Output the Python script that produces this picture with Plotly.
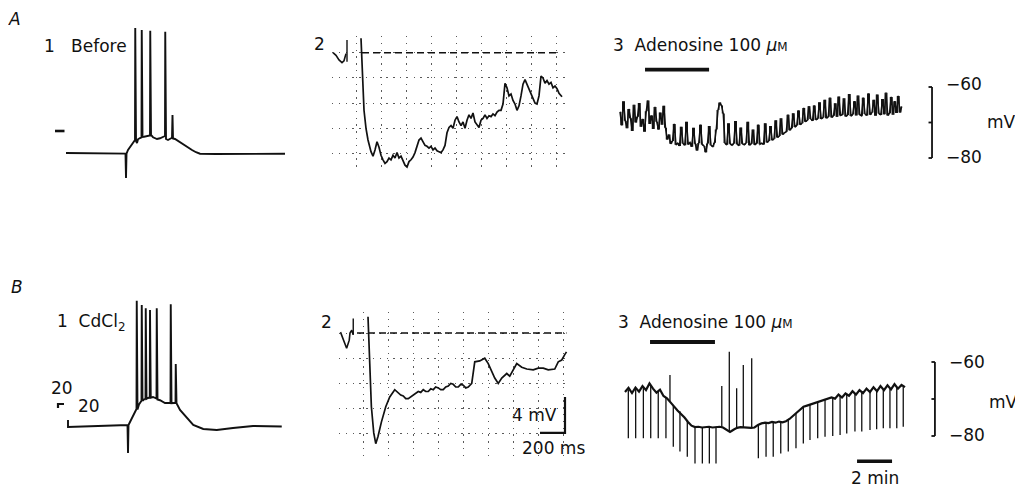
import plotly.graph_objects as go

W, H = 1023, 488
OFF = 8                      # the page body has an 8 px margin
FW, FH = W - OFF, H - OFF    # figure size so that it ends at the window edge
INK = "#111111"
FONT = "DejaVu Sans"

# ---------------- data ----------------
# A1 / B1 : membrane potential (mV) vs time (ms), current-evoked bursts
A1_T = [0, 120, 238, 240, 242, 248, 260, 272, 276, 277, 280, 284, 288, 296, 302, 303, 306, 312, 320, 328,
        336, 337, 340, 348, 356, 364, 376, 388, 396, 397, 400, 408, 416, 424, 426, 428, 436, 452, 468, 488,
        504, 520, 536, 600, 700, 800, 876]
A1_V = [-70, -70.2, -70.5, -90, -70.5, -67.6, -64.4, -61.2, -59.6, 30, -60.4, -62, -59, -58, -57.5, 28.4, -57.2, -57, -56.6, -56.8,
        -56, 27.8, -55.6, -57.4, -58.4, -58.8, -58.2, -57, -56.4, 27, -58.8, -59.6, -58.6, -57.8, -39.6, -58.4, -58.8, -61, -62.8, -65.4,
        -67.6, -69.4, -70.6, -70.8, -70.8, -70.6, -70.6]

B1_T = [0, 0, 120, 238, 240, 242, 252, 264, 274, 275, 278, 284, 290, 294, 295, 298, 304, 310, 311, 314, 320,
        327, 328, 331, 340, 350, 354, 355, 358, 368, 388, 408, 410, 411, 414, 424, 430, 431, 434, 448, 475,
        501, 541, 595, 660, 740, 855]
B1_V = [-64.4, -70, -69.2, -68.4, -90.8, -68.4, -64.4, -59.6, -55.6, 31, -56, -52, -50, -49, 27.6, -49, -48, -47.4, 25, -47.5, -46.8,
        -46.4, 23.6, -46.6, -46, -46.6, -47.2, 25, -48, -48.6, -50.8, -50.8, -50.8, 28.2, -51, -50.8, -50.8, -19.6, -51, -56.4, -62.8,
        -68.4, -71.6, -72.4, -70.8, -69.2, -69.6]

# A2 / B2 : hyperpolarisation (mV relative to baseline) vs time (ms)
A2_PRE_T = [-224, -200, -176, -152, -136, -120]
A2_PRE_V = [0.0, -0.3, -0.8, -1.1, -0.9, -0.1]
A2_ART_T = -112
A2_ART_V = [1.4, -1.0]
A2_T = [0, 8, 16, 24, 40, 56, 80, 96, 112, 128, 144, 160, 176, 192, 208, 224, 240, 256, 272, 288,
        304, 320, 336, 352, 368, 384, 400, 416, 432, 448, 464, 480, 496, 512, 528, 544, 560, 576, 592, 608,
        624, 640, 656, 672, 688, 704, 720, 736, 752, 768, 784, 800, 816, 832, 848, 864, 880, 896, 912, 928,
        944, 960, 976, 992, 1008, 1024, 1040, 1056, 1072, 1088, 1104, 1120, 1136, 1152, 1168, 1184, 1200, 1216, 1232, 1248,
        1264, 1280, 1296, 1312, 1328, 1344, 1360, 1376, 1392, 1408, 1424, 1440, 1456, 1472, 1488, 1504, 1520, 1536, 1552, 1568,
        1584, 1608]
A2_V = [1.6, -0.8, -4.1, -6.4, -8.4, -9.7, -11.0, -11.5, -10.8, -9.9, -10.5, -11.4, -11.9, -12.3, -12.1, -11.7, -11.9, -11.4, -11.7, -11.1,
        -11.7, -11.5, -12.0, -12.5, -12.7, -12.1, -11.9, -11.6, -11.1, -10.3, -9.7, -9.5, -10.0, -10.3, -10.4, -10.6, -10.4, -10.8, -10.6, -10.9,
        -11.0, -11.1, -10.8, -10.3, -8.9, -8.3, -8.1, -8.4, -7.5, -7.1, -7.7, -8.1, -7.7, -8.4, -7.5, -6.9, -7.3, -6.7, -7.7, -8.0,
        -8.3, -7.5, -7.3, -6.9, -7.3, -7.0, -7.1, -6.8, -7.0, -6.6, -6.4, -6.4, -5.7, -3.4, -3.9, -4.8, -4.6, -5.3, -5.7, -6.4,
        -5.9, -4.8, -3.5, -3.0, -3.5, -3.9, -4.4, -5.0, -5.6, -5.7, -4.8, -2.6, -2.8, -3.4, -3.1, -3.5, -3.3, -3.9, -3.7, -4.0,
        -4.5, -4.9]
A2_BASE = [8, 1576]

B2_PRE_T = [-220, -198, -171, -150, -144, -130, -118]
B2_PRE_V = [0.1, -0.8, -1.7, -0.8, 0.0, 0.3, -0.2]
B2_ART_T = -118
B2_ART_V = [1.6, -0.2]
B2_T = [0, 14, 27, 46, 62, 80, 107, 142, 174, 214, 242, 262, 282, 302, 322, 342, 362, 382, 402, 422,
        442, 462, 482, 502, 522, 542, 562, 582, 602, 622, 642, 662, 682, 702, 722, 742, 762, 782, 802, 830,
        846, 854, 894, 934, 962, 990, 1014, 1042, 1070, 1110, 1134, 1190, 1230, 1270, 1322, 1362, 1402, 1442, 1494, 1522,
        1550, 1574, 1588]
B2_V = [1.8, -2.6, -8.2, -11.1, -12.3, -11.5, -9.9, -8.2, -7.1, -6.3, -6.7, -6.9, -7.0, -7.3, -7.3, -7.1, -7.0, -6.7, -6.5, -6.6,
        -6.3, -6.5, -6.5, -6.2, -6.3, -6.0, -6.1, -6.3, -6.3, -6.0, -5.9, -5.6, -5.7, -6.0, -6.0, -5.7, -5.8, -6.1, -6.0, -5.6,
        -4.1, -3.2, -3.1, -2.8, -3.4, -4.3, -5.0, -5.6, -5.0, -4.5, -4.8, -3.4, -3.8, -4.0, -4.1, -3.9, -3.9, -4.1, -4.0, -3.2,
        -3.0, -2.4, -2.1]
B2_BASE = [-88, 1588]
SCALE_MS = 200
SCALE_MV = 4

# A3 : membrane potential (mV) sampled every 0.1 min
A3_DT = 0.1
A3_V = [-67.0, -70.8, -64.0, -69.5, -71.6, -66.2, -68.8, -72.4, -65.0, -70.0,
        -68.4, -64.5, -71.2, -69.0, -72.6, -66.8, -63.8, -70.4, -68.0, -71.8,
        -65.6, -69.8, -72.0, -67.2, -70.6, -65.3, -71.5, -74.8, -73.4, -76.0,
        -75.2, -70.4, -76.3, -75.8, -76.6, -71.2, -75.9, -76.4, -69.8, -76.2,
        -75.6, -76.8, -71.5, -76.0, -77.9, -75.8, -70.6, -76.2, -76.6, -78.4,
        -75.9, -71.0, -76.4, -76.8, -75.7, -72.0, -66.5, -64.4, -65.2, -67.5,
        -75.8, -76.3, -70.2, -76.0, -76.4, -75.9, -69.6, -76.1, -76.5, -71.4,
        -76.0, -76.3, -75.8, -69.8, -76.4, -76.0, -72.0, -76.3, -75.9, -70.6,
        -76.1, -75.8, -76.2, -70.2, -75.6, -75.2, -71.0, -75.0, -74.6, -69.4,
        -74.2, -73.8, -68.8, -73.4, -72.9, -72.6, -67.8, -72.2, -71.6, -67.4,
        -71.3, -70.8, -66.6, -70.6, -70.2, -65.9, -69.8, -69.4, -65.4, -69.0,
        -69.5, -65.2, -69.3, -68.9, -64.3, -69.0, -68.6, -63.6, -68.8, -68.4,
        -63.0, -68.6, -68.1, -64.6, -68.4, -62.7, -68.0, -67.8, -63.2, -68.3,
        -67.9, -62.0, -68.2, -67.7, -64.0, -68.0, -62.4, -67.8, -68.1, -63.0,
        -67.6, -68.0, -61.8, -67.8, -67.2, -63.6, -68.1, -62.1, -67.5, -67.9,
        -63.4, -67.7, -61.6, -68.0, -67.4, -62.8, -67.8, -64.0, -67.3, -62.5,
        -67.2, -65.5]
A3_DRUG = [1.43, 5.09]

# B3 : baseline (mV) sampled every 0.2 min, plus spikes
B3_DT = 0.2
B3_BASE = [-68.1, -67.0, -68.4, -66.9, -68.0, -66.5, -67.6, -65.8, -67.2, -68.3,
           -67.5, -69.2, -69.8, -70.8, -72.0, -73.1, -74.0, -75.0, -76.2, -77.2,
           -77.6, -77.5, -77.7, -77.6, -77.5, -77.7, -77.6, -77.5, -77.7, -78.3,
           -78.9, -78.3, -77.8, -77.6, -77.7, -77.6, -77.8, -77.7, -77.0, -76.6,
           -76.4, -76.5, -76.2, -76.4, -76.1, -76.3, -76.0, -75.4, -74.6, -73.9,
           -73.0, -72.1, -71.8, -71.5, -71.0, -70.8, -70.5, -70.2, -70.0, -69.6,
           -69.9, -68.8, -69.6, -68.5, -69.1, -67.9, -68.8, -67.6, -68.4, -67.2,
           -68.1, -66.8, -67.9, -66.5, -67.6, -66.3, -67.4, -66.0, -67.2, -66.2,
           -66.8]
B3_SPK_T = [0.19, 0.61, 1.05, 1.47, 1.90, 2.34, 2.76, 3.14, 3.56, 4.0, 4.42, 4.82, 5.2,
            7.62, 8.06, 8.47, 8.9, 9.33, 9.77, 10.19, 10.57, 11.01, 11.43, 11.87, 12.29, 12.67,
            13.14, 13.53, 14.0, 14.38, 14.76, 15.14, 15.53, 15.9,
            2.57, 5.53, 5.96, 6.38, 6.76, 7.24]
B3_SPK_FROM = [-67.6, -67.2, -66.8, -66.5, -67.9, -69.5, -71.6, -73.3, -75.9, -77.6, -77.7, -77.5, -77.6,
               -77.0, -76.4, -76.3, -76.2, -75.6, -74.0, -72.1, -71.5, -70.8, -70.2, -69.7, -69.2, -68.7,
               -68.5, -68.0, -68.0, -67.8, -67.4, -67.0, -66.8, -66.6,
               -70.6, -77.6, -78.8, -77.9, -77.7, -77.8]
B3_SPK_TO = [-80.6, -80.6, -80.6, -80.6, -80.6, -80.6, -82.9, -84.2, -85.6, -87.4, -87.4, -87.4, -87.4,
             -86.0, -85.6, -85.6, -84.7, -84.2, -83.3, -82.0, -81.1, -80.6, -80.2, -80.0, -79.7, -79.3,
             -78.8, -78.8, -78.4, -78.2, -77.9, -77.9, -77.9, -77.5,
             -63.5, -66.5, -57.2, -67.1, -60.8, -59.0]
B3_DRUG = [1.43, 5.14]
SCALE_MIN = 2
BRACKET_MV = [-60, -70, -80]

# ---------------- layout helpers ----------------
def px_x(px):
    return (px - OFF) / FW


def px_y(py):
    return 1 - (py - OFF) / FH


# panel: pixel box (x0, x1, y0_top, y1_bottom), x calibration (px, value, px/unit), y calibration
PANELS = [
    ("A1", (40, 300, 20, 190), (66, 0, 0.25), (153, -70, 1.25), False),
    ("A2", (332, 566, 36, 172), (361, 0, 0.125), (52.7, 0, 9.0), True),
    ("A3", (612, 945, 60, 175), (620, 0, 17.5), (87, -60, 3.55), False),
    ("B1", (40, 300, 290, 470), (68, 0, 0.25), (427, -70, 1.25), False),
    ("B2", (339, 570, 312, 456), (368, 0, 0.125), (333, 0, 9.0), True),
    ("B3", (612, 945, 340, 470), (625, 0, 17.5), (362, -60, 3.7), False),
]
AX = {}
layout_axes = {}
for i, (name, box, xc, yc, grid) in enumerate(PANELS, 1):
    s = "" if i == 1 else str(i)
    x0, x1, y0, y1 = box
    xr = [xc[1] + (x0 - xc[0]) / xc[2], xc[1] + (x1 - xc[0]) / xc[2]]
    yr = [yc[1] - (y1 - yc[0]) / yc[2], yc[1] - (y0 - yc[0]) / yc[2]]
    base = dict(showticklabels=False, ticks="", showline=False, zeroline=False,
                fixedrange=True, showgrid=grid)
    xa = dict(base, domain=[px_x(x0), px_x(x1)], range=xr, anchor="y" + s)
    ya = dict(base, domain=[px_y(y1), px_y(y0)], range=yr, anchor="x" + s)
    if grid:
        g = dict(tickmode="linear", gridcolor="#5a5a5a", gridwidth=1, griddash="1.3px,5.5px")
        xa.update(g, tick0=-40, dtick=200)
        ya.update(g, tick0=0, dtick=2.8)
    layout_axes["xaxis" + s] = xa
    layout_axes["yaxis" + s] = ya
    AX[name] = ("x" + s, "y" + s)

fig = go.Figure()


def line(panel, x, y, width=1.6, dash=None, shape="linear"):
    xa, ya = AX[panel]
    fig.add_trace(go.Scatter(x=x, y=y, mode="lines", xaxis=xa, yaxis=ya,
                             line=dict(color=INK, width=width, dash=dash, shape=shape),
                             hoverinfo="skip", showlegend=False, connectgaps=False))


def segments(pairs):
    xs, ys = [], []
    for (xa, ya), (xb, yb) in pairs:
        xs += [xa, xb, None]
        ys += [ya, yb, None]
    return xs, ys


# A1 / B1
line("A1", A1_T, A1_V, width=1.9)
line("A1", [-44, -6], [-52.4, -52.4], width=2.6)
line("B1", B1_T, B1_V, width=1.9)
line("B1", [-16, -40, -40], [-51.6, -51.6, -54.8], width=2.2)

# A2 / B2
line("A2", A2_PRE_T, A2_PRE_V, width=1.6)
line("A2", [A2_ART_T, A2_ART_T], A2_ART_V, width=1.4)
line("A2", A2_BASE, [0, 0], width=1.6, dash="7px,4px")
line("A2", A2_T, A2_V, width=1.7)
line("B2", B2_PRE_T, B2_PRE_V, width=1.6)
line("B2", [B2_ART_T, B2_ART_T], B2_ART_V, width=1.4)
line("B2", B2_BASE, [0, 0], width=1.6, dash="7px,4px")
line("B2", B2_T, B2_V, width=1.7)
sb_t1 = B2_BASE[1] - 12
sb_v0 = -11.1
line("B2", [sb_t1 - SCALE_MS, sb_t1, sb_t1], [sb_v0, sb_v0, sb_v0 + SCALE_MV], width=2.2)

# A3 : chart-recorder band drawn as vertical strokes between successive samples
a3_t = [i * A3_DT for i in range(len(A3_V))]
line("A3", a3_t, A3_V, width=1.5)
xs, ys = segments([(((i + 0.5) * A3_DT, A3_V[i]), ((i + 0.5) * A3_DT, A3_V[i + 1]))
                   for i in range(len(A3_V) - 1)])
line("A3", xs, ys, width=1.2)
line("A3", A3_DRUG, [-55.1, -55.1], width=3.8)
bx = 17.83
xs, ys = segments([((bx, BRACKET_MV[0]), (bx, BRACKET_MV[2]))] +
                  [((bx - 0.2, v), (bx, v)) for v in BRACKET_MV])
line("A3", xs, ys, width=1.8)

# B3
b3_t = [i * B3_DT for i in range(len(B3_BASE))]
line("B3", b3_t, B3_BASE, width=2.2)
xs, ys = segments([((t, a), (t, b)) for t, a, b in zip(B3_SPK_T, B3_SPK_FROM, B3_SPK_TO)])
line("B3", xs, ys, width=1.3)
line("B3", B3_DRUG, [-54.6, -54.6], width=3.8)
bx = 17.71
xs, ys = segments([((bx, BRACKET_MV[0]), (bx, BRACKET_MV[2]))] +
                  [((bx - 0.2, v), (bx, v)) for v in BRACKET_MV])
line("B3", xs, ys, width=1.8)
line("B3", [13.26, 13.26 + SCALE_MIN], [-86.8, -86.8], width=3.5)

# ---------------- text ----------------
ann = []


def label(text, x, y, xanchor="left", size=17):
    ann.append(dict(text=text, x=px_x(x), y=px_y(y), xref="paper", yref="paper",
                    xanchor=xanchor, yanchor="middle", showarrow=False,
                    font=dict(family=FONT, size=size, color=INK)))


NB = "\u00a0"
MU_M = "<i>μ</i><span style='font-size:12px'>M</span>"
label("<i>A</i>", 6, 19)
label("<i>B</i>", 9, 287)
label("1" + NB * 3 + "Before", 42, 46)
label("1" + NB * 2 + "CdCl<sub>2</sub>", 55, 322)
label("2", 312, 44)
label("2", 319, 322)
label("3" + NB * 2 + "Adenosine 100 " + MU_M, 611, 45)
label("3" + NB * 2 + "Adenosine 100 " + MU_M, 616, 322)
label("\u221260", 944, 84)
label("\u221280", 944, 157)
label("mV", 985, 122)
label("\u221260", 947, 362)
label("\u221280", 947, 435)
label("mV", 987, 402)
label("20", 61.5, 388, xanchor="center")
label("20", 89, 406, xanchor="center")
label("4 mV", 559, 415, xanchor="right")
label("200 ms", 553, 448, xanchor="center")
label("2 min", 875, 478, xanchor="center")

fig.update_layout(width=FW, height=FH, margin=dict(l=0, r=0, t=0, b=0),
                  paper_bgcolor="white", plot_bgcolor="white",
                  showlegend=False, annotations=ann, **layout_axes)

fig.write_html("out.html")
